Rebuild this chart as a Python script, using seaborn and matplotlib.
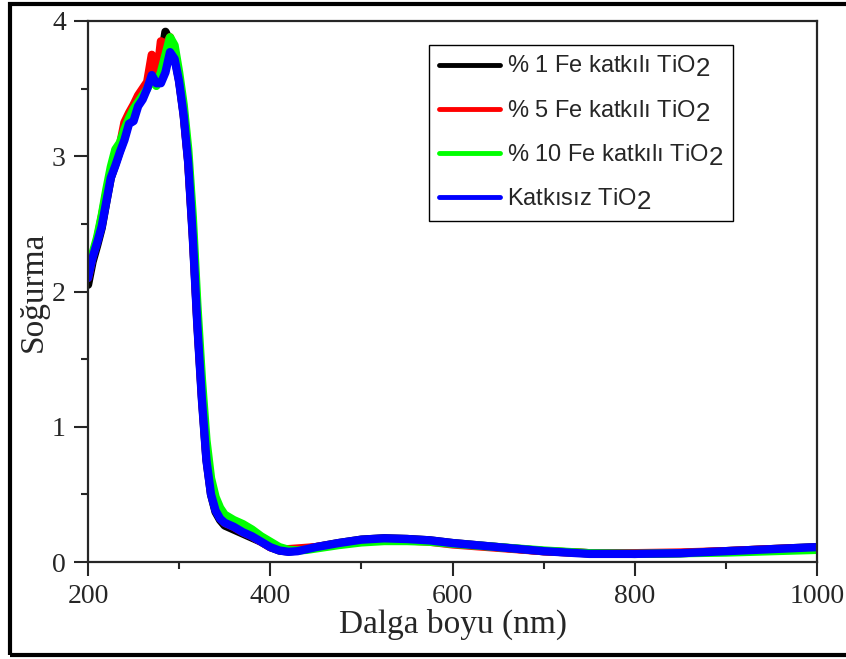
import pandas as pd
import matplotlib.pyplot as plt
import matplotlib._mathtext as mathtext_internal
import seaborn as sns
from matplotlib.patches import Rectangle

# ==========================================
# Data
# ==========================================

wavelength = [200, 205, 210, 215, 220, 225, 230, 235, 240, 245, 250, 255, 260, 265,
              270, 275, 280, 285, 290, 295, 300, 305, 310, 315, 320, 325, 330, 335,
              340, 345, 350, 360, 370, 380, 390, 400, 410, 420, 430, 440, 450, 475,
              500, 525, 550, 575, 600, 650, 700, 750, 800, 850, 900, 950, 1000]

fe1 = [2.05, 2.22, 2.34, 2.47, 2.66, 2.84, 2.94, 3.04, 3.14, 3.26, 3.30, 3.40, 3.44, 3.52,
       3.60, 3.55, 3.70, 3.92, 3.85, 3.74, 3.56, 3.31, 2.96, 2.42, 1.77, 1.22, 0.76, 0.50,
       0.37, 0.31, 0.27, 0.24, 0.21, 0.18, 0.15, 0.11, 0.085, 0.078, 0.085, 0.098, 0.11, 0.14,
       0.165, 0.175, 0.17, 0.16, 0.14, 0.11, 0.08, 0.065, 0.06, 0.065, 0.08, 0.095, 0.11]

fe5 = [2.10, 2.26, 2.38, 2.55, 2.72, 2.86, 3.00, 3.08, 3.25, 3.32, 3.38, 3.45, 3.50, 3.55,
       3.75, 3.55, 3.85, 3.82, 3.88, 3.75, 3.57, 3.32, 2.97, 2.44, 1.79, 1.24, 0.78, 0.52,
       0.39, 0.33, 0.29, 0.26, 0.22, 0.19, 0.15, 0.11, 0.095, 0.095, 0.10, 0.105, 0.11, 0.135,
       0.16, 0.165, 0.16, 0.15, 0.13, 0.105, 0.08, 0.065, 0.065, 0.07, 0.08, 0.095, 0.105]

fe10 = [2.15, 2.28, 2.40, 2.56, 2.75, 2.92, 3.05, 3.10, 3.20, 3.28, 3.35, 3.40, 3.45, 3.50,
        3.58, 3.52, 3.62, 3.75, 3.88, 3.82, 3.62, 3.38, 3.05, 2.55, 1.90, 1.35, 0.90, 0.62,
        0.48, 0.40, 0.35, 0.31, 0.28, 0.24, 0.19, 0.15, 0.11, 0.09, 0.085, 0.09, 0.10, 0.125,
        0.145, 0.155, 0.155, 0.15, 0.135, 0.11, 0.085, 0.065, 0.06, 0.065, 0.07, 0.08, 0.09]

undoped = [2.10, 2.25, 2.36, 2.48, 2.66, 2.84, 2.93, 3.03, 3.12, 3.24, 3.26, 3.37, 3.42, 3.50,
           3.60, 3.54, 3.54, 3.62, 3.77, 3.72, 3.55, 3.30, 2.95, 2.40, 1.75, 1.20, 0.75, 0.50,
           0.38, 0.32, 0.29, 0.26, 0.22, 0.19, 0.15, 0.11, 0.085, 0.075, 0.08, 0.095, 0.11, 0.14,
           0.165, 0.175, 0.17, 0.16, 0.14, 0.11, 0.08, 0.06, 0.06, 0.065, 0.08, 0.095, 0.11]

labels = ["% 1 Fe katkılı TiO$_2$", "% 5 Fe katkılı TiO$_2$",
          "% 10 Fe katkılı TiO$_2$", "Katkısız TiO$_2$"]
colors = ["#000000", "#ff0000", "#00ff00", "#0000ff"]

df = pd.DataFrame({"wavelength": wavelength * 4,
                   "absorbance": fe1 + fe5 + fe10 + undoped,
                   "sample": sum([[l] * len(wavelength) for l in labels], [])})

# ==========================================
# Plot
# ==========================================

sns.set_style("ticks")
plt.rcParams["font.family"] = ["Liberation Serif", "DejaVu Serif"]
plt.rcParams["mathtext.fontset"] = "custom"
plt.rcParams["mathtext.rm"] = "Liberation Sans"
# Origin-style subscripts are as big as the normal text
mathtext_internal.SHRINK_FACTOR = 1.1

fig = plt.figure(figsize=(8.46, 6.59), dpi=100)
ax = fig.add_axes([88 / 846, 97 / 659, 729 / 846, 541 / 659])

for lab, col in zip(labels, colors):
    sns.lineplot(data=df[df["sample"] == lab], x="wavelength", y="absorbance",
                 color=col, linewidth=6, label=lab, ax=ax, sort=False)

ax.set_xlim(200, 1000)
ax.set_ylim(0, 4)
ax.set_xticks([200, 400, 600, 800, 1000])
ax.set_xticks([300, 500, 700, 900], minor=True)
ax.set_yticks([0, 1, 2, 3, 4])
ax.set_yticks([0.5, 1.5, 2.5, 3.5], minor=True)
ax.tick_params(which="major", direction="out", length=10, width=1.5, labelsize=20, pad=6)
ax.tick_params(which="minor", direction="out", length=5, width=1.5)
for s in ax.spines.values():
    s.set_linewidth(1.6)

ax.set_xlabel("Dalga boyu (nm)", fontsize=24, labelpad=0)
ax.set_ylabel("Soğurma", fontsize=24, labelpad=2)

leg = ax.legend(loc="upper left", bbox_to_anchor=(0.468, 0.956), borderaxespad=0,
                prop={"family": "Liberation Sans", "size": 17}, fancybox=False,
                edgecolor="black", framealpha=1, handlelength=2.6, handletextpad=0.3,
                labelspacing=0.8, borderpad=0.4)
leg.get_frame().set_linewidth(1.0)
for h in leg.get_lines():
    h.set_linewidth(3.5)

fig.add_artist(Rectangle((10 / 846, 4 / 659), 1.0, 651 / 659, transform=fig.transFigure,
                         fill=False, edgecolor="black", linewidth=3))

plt.savefig("out.png", dpi=100)
plt.close()
